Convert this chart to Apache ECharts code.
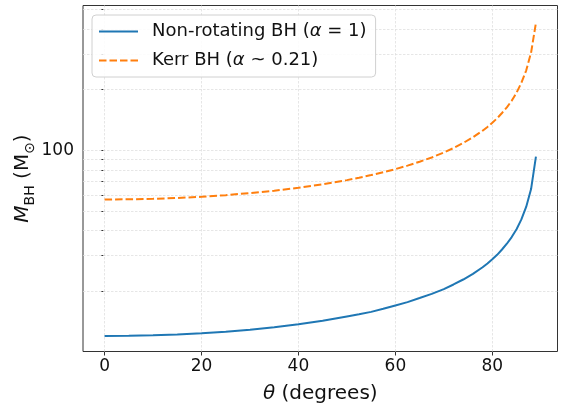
<!DOCTYPE html>
<html><head><meta charset="utf-8">
<script src="https://cdn.jsdelivr.net/npm/echarts@6/dist/echarts.min.js"></script>
<style>html,body{margin:0;padding:0;background:#fff}#c{width:567px;height:406px}</style>
</head><body><div id="c"></div>
<script>
const theta = [0,5,10,15,20,25,30,35,40,45,50,52.5,55,57.5,60,62.5,65,67.5,70,72,74,76,78,79,80,81,82,83,84,85,86,87,88,89];
const nonRotating = [12.0,12.02,12.09,12.21,12.38,12.6,12.9,13.26,13.7,14.27,15.0,15.38,15.8,16.37,17.0,17.66,18.5,19.4,20.5,21.6,22.86,24.4,26.3,27.47,28.8,30.3,32.2,34.4,37.1,40.6,45.4,52.5,64.2,93];
const kerr = [57.0,57.1,57.4,58.0,58.8,59.9,61.3,63.0,65.1,67.8,71.1,73.05,75.3,77.8,80.6,83.9,87.7,92.1,97.5,102.5,108.6,116,125,130.5,137,144,153,163,176,193,216,249,305,428];
const xTicks = [0,20,40,60,80];
const yLabels = [100];
const yMinor = [20,30,40,50,60,70,80,90,200,300,400,500];
const seriesNames = ['Non-rotating BH (\u03b1 = 1)', 'Kerr BH (\u03b1 ~ 0.21)'];

const font = 'DejaVu Sans';
const gridStyle = {color:'#e0e0e0', width:0.8, type:[2.5,1.5]};
const gridLines = xTicks.map(v=>({xAxis:v})).concat(yMinor.concat(yLabels).map(v=>({yAxis:v})));

const chart = echarts.init(document.getElementById('c'));
chart.setOption({
  animation:false,
  textStyle:{fontFamily:font},
  grid:{left:83, right:9.5, top:5.5, bottom:54.5, show:true, borderColor:'#333', borderWidth:1, containLabel:false, outerBoundsMode:'none'},
  legend:{
    left:92, top:15, orient:'vertical',
    data:seriesNames,
    itemWidth:39, itemHeight:14, itemGap:8,
    padding:[6,9,6,6],
    itemStyle:{opacity:0},
    backgroundColor:'rgba(255,255,255,0.85)', borderColor:'#d0d0d0', borderWidth:1, borderRadius:4,
    formatter:function(n){
      const k = n.indexOf('\u03b1');
      return '{n|' + n.slice(0,k) + '}{i|\u03b1}{n|' + n.slice(k+1) + '}';
    },
    textStyle:{fontFamily:font, fontSize:18, color:'#111', padding:[0,0,0,9], lineHeight:21,
      rich:{n:{fontSize:18, fontFamily:font, color:'#111'}, i:{fontSize:18, fontStyle:'italic', fontFamily:font, color:'#111'}}}
  },
  xAxis:{
    type:'value', min:-4.45, max:93.45,
    name:'{i|\u03b8} (degrees)', nameLocation:'middle', nameGap:32,
    nameTextStyle:{fontFamily:font, fontSize:20, color:'#111', rich:{i:{fontStyle:'italic', fontSize:20, fontFamily:font}}},
    axisLine:{show:false},
    axisTick:{show:true, customValues:xTicks, length:4, lineStyle:{color:'#333'}},
    axisLabel:{customValues:xTicks, fontSize:17, color:'#111', margin:7, fontFamily:font},
    splitLine:{show:false}
  },
  yAxis:{
    type:'log', logBase:10, min:10.05, max:522,
    name:'{i|M}{s|BH} (M{s|\u2299})', nameLocation:'middle', nameGap:46, nameRotate:90, nameMoveOverlap:false,
    nameTextStyle:{fontFamily:font, fontSize:20, color:'#111', lineHeight:28,
      rich:{i:{fontStyle:'italic', fontSize:20, lineHeight:28, fontFamily:font}, s:{fontSize:14, verticalAlign:'bottom', lineHeight:12, fontFamily:font}}},
    axisLine:{show:false},
    axisTick:{show:true, customValues:yMinor.concat(yLabels), length:3.5, lineStyle:{color:'#333'}},
    axisLabel:{customValues:yLabels, fontSize:17, color:'#111', margin:9, fontFamily:font},
    splitLine:{show:false}, minorTick:{show:false}, minorSplitLine:{show:false}
  },
  series:[
    {name:seriesNames[0], type:'line', data:theta.map((t,i)=>[t,nonRotating[i]]), showSymbol:false, symbol:'none',
     lineStyle:{color:'#1f77b4', width:2}, itemStyle:{color:'#1f77b4'}, z:3,
     markLine:{silent:true, symbol:['none','none'], label:{show:false}, lineStyle:gridStyle, data:gridLines, z:1, animation:false}},
    {name:seriesNames[1], type:'line', data:theta.map((t,i)=>[t,kerr[i]]), showSymbol:false, symbol:'none',
     lineStyle:{color:'#ff7f0e', width:2, type:[7.5,3]}, itemStyle:{color:'#ff7f0e'}, z:3}
  ]
});
</script></body></html>
